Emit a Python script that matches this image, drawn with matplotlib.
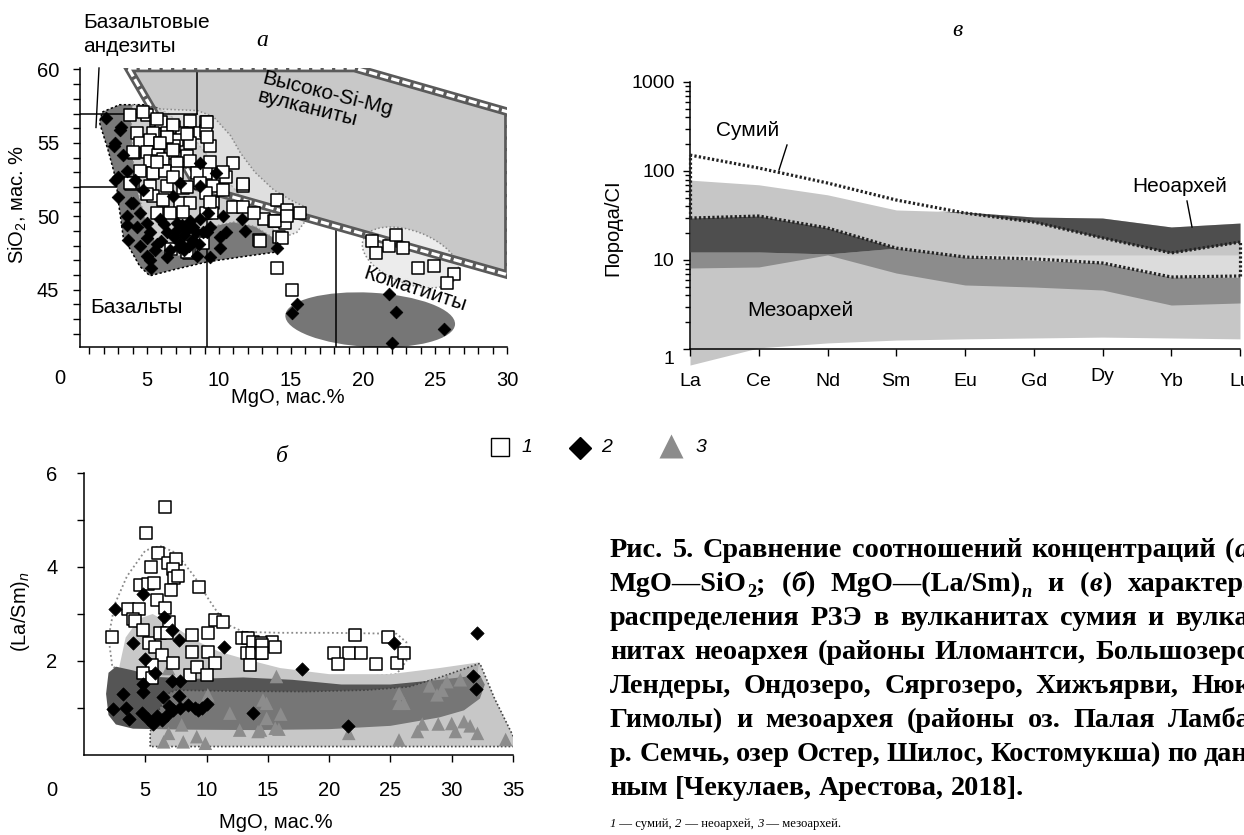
import matplotlib
matplotlib.use("Agg")
import matplotlib.pyplot as plt
from matplotlib.patches import Polygon, Ellipse
from matplotlib.lines import Line2D
from matplotlib.ticker import MultipleLocator, FixedLocator, LogLocator, NullFormatter
import matplotlib.transforms as mtrans

plt.rcParams['font.family'] = ['Liberation Sans', 'DejaVu Sans']
plt.rcParams['mathtext.fontset'] = 'custom'
plt.rcParams['mathtext.rm'] = 'Liberation Sans'
plt.rcParams['mathtext.it'] = 'Liberation Sans:italic'

# ---------------- panel a: MgO - SiO2 ----------------
sum_a_mgo = [3.8, 5.0, 5.6, 6.0, 8.0, 9.1, 6.9, 7.4, 7.9, 8.7, 9.1, 4.3, 5.4, 6.4, 7.1, 4.5, 5.2, 5.9,
             6.9, 8.0, 9.4, 4.1, 5.0, 5.8, 6.7, 7.75, 5.2, 6.1, 7.1, 8.0, 11.0, 4.5, 5.4, 6.25, 7.1,
             9.1, 9.95, 10.5, 11.7, 4.05, 5.2, 6.4, 7.5, 8.45, 8.7, 9.6, 10.3, 9.1, 5.4, 6.1, 7.3, 8.0,
             9.6, 11.0, 11.7, 14.0, 14.7, 13.1, 13.8, 14.6, 5.7, 6.6, 7.5, 9.1, 15.6, 14.2, 12.8, 6.7,
             7.9, 8.9, 12.4, 7.75, 9.5, 5.0, 3.9, 9.4, 13.9, 14.7, 12.85, 14.35, 14.0, 15.1,
             4.7, 5.7, 6.8, 9.2, 6.4, 7.8, 9.2, 4.0, 5.9, 6.8, 5.7, 9.4, 3.8, 6.8, 7.8, 10.3, 11.7,
             20.6, 20.9, 21.8, 22.3, 22.8, 23.8, 24.95, 26.3, 25.8]
sum_a_sio2 = [56.9, 56.9, 56.5, 56.4, 56.5, 56.4, 56.1, 55.7, 55.6, 55.7, 55.8, 55.7, 55.7, 55.7, 55.2, 55.0,
              55.2, 55.0, 54.8, 55.0, 54.8, 54.3, 54.4, 54.2, 54.3, 54.1, 53.75, 53.9, 53.6, 53.75, 53.6,
              53.1, 52.95, 53.1, 52.95, 52.95, 52.7, 52.7, 52.05, 52.3, 52.05, 52.05, 51.9, 52.95, 52.3,
              52.05, 51.8, 51.6, 51.4, 51.1, 50.9, 50.9, 50.9, 50.6, 50.6, 51.1, 50.45, 49.8, 49.7, 49.55,
              50.2, 50.2, 50.3, 50.2, 50.2, 48.6, 48.4, 47.8, 47.5, 48.2, 50.2, 47.6, 50.2, 51.5, 52.2,
              51.0, 49.65, 50.0, 48.3, 48.5, 46.5, 45.0,
              57.1, 56.6, 56.25, 56.4, 55.4, 55.6, 55.4, 54.4, 55.0, 54.5, 53.7, 53.7, 52.3, 52.7, 52.0,
              53.0, 52.2,
              48.3, 47.5, 48.0, 48.75, 47.85, 46.5, 46.6, 46.1, 45.45]
neo_a_mgo = [2.15, 3.2, 2.8, 3.35, 3.6, 4.2, 8.7, 3.0, 2.8, 3.9, 3.6, 4.5, 5.0, 5.0, 5.7, 5.2, 5.3, 6.4, 7.1,
             7.6, 8.2, 8.7, 8.1, 7.3, 9.15, 10.1, 10.1, 9.4, 11.6, 11.8, 14.0, 4.7, 3.1, 3.0, 3.6, 4.05,
             5.2, 5.55, 6.4, 6.6, 7.75, 7.6, 9.8, 8.7, 9.25, 10.3, 9.4, 8.9, 10.5, 7.3, 6.8, 5.9, 4.5,
             4.3, 3.7, 5.0, 8.45, 2.7, 6.9, 7.0, 7.9, 8.4, 6.2, 7.4, 8.0, 6.0, 7.2, 8.6,
             15.4, 15.05, 21.8, 22.3, 25.6, 22.0]
neo_a_sio2 = [56.7, 56.1, 55.0, 54.2, 53.1, 52.5, 53.6, 51.3, 52.5, 50.9, 49.4, 50.2, 49.55, 48.5, 48.1,
              47.05, 46.5, 47.2, 49.55, 48.75, 49.3, 49.8, 48.4, 48.2, 48.9, 48.6, 47.85, 47.2, 49.8, 49.0,
              47.85, 51.8, 55.9, 52.7, 50.0, 50.9, 48.9, 47.7, 48.9, 47.7, 49.1, 47.7, 52.95, 52.05, 50.2,
              50.0, 49.3, 48.9, 48.9, 52.3, 51.4, 49.8, 47.95, 49.3, 48.4, 47.3, 47.3, 54.8,
              48.6, 49.0, 48.0, 48.9, 49.5, 49.4, 49.7, 48.3, 47.9, 48.1,
              44.0, 43.4, 44.7, 43.45, 42.35, 41.4]

# field outlines (MgO, SiO2)
hsm_mgo = [3.7, 19.4, 30.1, 30.1, 8.5]
hsm_sio2 = [60.1, 60.1, 57.1, 46.0, 52.0]
neo_hull_mgo = [1.9, 3.1, 5.2, 6.5, 8.5, 10.5, 12.5, 14.3, 14.2, 12.0, 9.2, 7.0, 5.2, 4.5, 3.35, 3.0,
                2.85, 2.3, 1.7]
neo_hull_sio2 = [57.1, 57.6, 57.6, 57.0, 55.0, 52.5, 50.3, 48.6, 47.6, 47.3, 46.9, 46.4, 45.95, 46.6,
                 48.6, 51.1, 52.5, 54.5, 56.4]
sum_hull_mgo = [4.0, 6.1, 8.5, 9.6, 10.8, 11.5, 12.5, 13.8, 15.0, 15.85, 16.1, 15.4, 14.0, 12.5, 11.0,
                9.5, 8.8, 8.2, 6.8, 5.8, 5.0, 4.4, 4.0, 3.9]
sum_hull_sio2 = [57.6, 57.3, 57.2, 56.8, 55.5, 54.3, 53.0, 51.8, 51.1, 50.7, 49.8, 48.9, 48.4, 49.3,
                 49.6, 49.3, 48.3, 47.4, 47.3, 47.8, 49.3, 51.5, 54.0, 56.5]

# ---------------- panel б: MgO - (La/Sm)n ----------------
sum_b_mgo = [6.6, 5.06, 6.07, 6.83, 7.5, 7.24, 5.47, 7.35, 7.7, 9.4, 4.57, 5.25, 5.7, 7.13, 5.93, 6.6, 3.57,
             4.5, 3.97, 10.7, 11.3, 6.97, 2.26, 4.16, 4.84, 5.3, 5.8, 6.2, 6.75, 6.34, 5.52, 4.84, 5.52,
             7.3, 8.8, 10.1, 8.8, 10.1, 10.7, 8.65, 9.2, 10.0, 12.9, 13.4, 13.8, 13.3, 13.7, 14.4, 15.3,
             14.4, 13.55, 15.6, 14.5, 14.5, 22.1, 24.8, 20.4, 21.6, 22.6, 20.7, 23.8, 25.5, 26.1]
sum_b_lasm = [5.27, 4.73, 4.29, 4.08, 4.16, 3.95, 3.99, 3.77, 3.81, 3.58, 3.62, 3.64, 3.65, 3.51, 3.3, 3.12,
              3.11, 3.11, 2.89, 2.87, 2.82, 2.82, 2.52, 2.86, 2.66, 2.38, 2.3, 2.59, 2.59, 2.13, 1.91,
              1.74, 1.63, 1.95, 2.55, 2.59, 2.2, 2.2, 1.95, 1.7, 1.88, 1.7, 2.48, 2.48, 2.41, 2.16, 2.16,
              2.16, 2.41, 2.38, 1.91, 2.3, 2.34, 2.18, 2.55, 2.52, 2.18, 2.18, 2.18, 1.94, 1.94, 1.96, 2.18]
neo_b_mgo = [2.53, 4.79, 6.5, 7.16, 4.02, 7.78, 11.4, 4.98, 5.8, 7.16, 7.84, 4.8, 3.16, 4.8, 6.48, 7.78, 2.4,
             3.43, 3.7, 4.71, 5.25, 5.66, 6.34, 6.75, 7.29, 7.84, 8.51, 9.06, 9.6, 10.0, 9.33, 6.9, 5.93,
             13.8, 17.8, 25.3, 32.1, 31.7, 32.0, 21.5]
neo_b_lasm = [3.11, 3.43, 2.93, 2.67, 2.39, 2.45, 2.3, 2.04, 1.75, 1.58, 1.58, 1.52, 1.29, 1.33, 1.24, 1.26,
              0.97, 1.01, 0.76, 0.9, 0.76, 0.67, 0.74, 0.85, 0.96, 0.99, 1.06, 1.01, 1.01, 1.08, 0.96,
              1.04, 0.82, 0.89, 1.82, 2.39, 2.59, 1.68, 1.4, 0.62]
meso_b_mgo = [6.9, 10.1, 11.9, 14.9, 15.6, 12.7, 9.2, 9.9, 8.1, 6.5, 7.97, 6.9, 14.2, 14.9, 15.7, 14.6,
              16.05, 15.9, 14.4, 21.6, 25.7, 25.7, 26.1, 28.2, 28.8, 29.2, 29.6, 30.7, 27.2, 27.6, 28.9,
              30.0, 30.3, 31.0, 31.5, 32.1, 25.7, 34.4]
meso_b_lasm = [1.84, 1.28, 0.89, 0.78, 0.57, 0.53, 0.39, 0.25, 0.28, 0.28, 0.64, 0.46, 0.5, 1.1, 1.67,
               1.17, 0.87, 0.55, 0.53, 0.46, 1.31, 1.1, 1.1, 1.47, 1.28, 1.38, 1.56, 1.6, 0.5, 0.66,
               0.66, 0.67, 0.5, 0.71, 0.62, 0.46, 0.32, 0.33]

sum_field_b_mgo = [2.3, 2.0, 2.5, 3.5, 5.0, 6.2, 7.5, 9.0, 10.2, 11.5, 13.0, 16.0, 20.0, 25.5, 26.3, 26.3,
                   25.5, 22.0, 18.0, 15.0, 12.0, 8.0, 5.0, 3.0]
sum_field_b_lasm = [1.9, 2.5, 3.2, 3.8, 4.35, 4.45, 4.3, 3.8, 3.3, 2.8, 2.62, 2.6, 2.6, 2.58, 2.4, 2.0,
                    1.72, 1.65, 1.62, 1.65, 1.8, 1.8, 1.7, 1.75]
up_field_b_mgo = [2.9, 3.4, 4.5, 5.6, 7.0, 9.0, 11.0, 13.0, 16.0, 20.0, 25.0, 29.0, 32.2, 32.0, 3.0]
up_field_b_lasm = [1.9, 2.5, 2.9, 3.0, 2.8, 2.45, 2.2, 2.05, 1.85, 1.72, 1.72, 1.85, 1.97, 1.3, 1.3]
neo_field_b_mgo = [2.0, 2.6, 4.0, 6.0, 9.0, 13.0, 17.0, 21.0, 25.0, 29.0, 32.3, 32.7, 32.3, 31.0, 29.0,
                   25.0, 20.0, 14.0, 8.0, 4.0, 2.6, 2.0, 1.8]
neo_field_b_lasm = [1.75, 1.88, 1.8, 1.66, 1.62, 1.65, 1.6, 1.5, 1.5, 1.6, 1.7, 1.5, 1.2, 0.95, 0.8, 0.62,
                    0.55, 0.53, 0.54, 0.56, 0.65, 0.85, 1.3]
meso_field_b_mgo = [5.4, 5.4, 6.0, 6.8, 7.5, 12.0, 18.0, 23.0, 26.5, 29.0, 32.3, 33.5, 35.3, 35.3]
meso_field_b_lasm = [0.18, 0.5, 0.9, 1.3, 1.38, 1.36, 1.35, 1.38, 1.45, 1.65, 1.95, 1.2, 0.25, 0.18]

# ---------------- panel в: REE / CI ----------------
ree = ['La', 'Ce', 'Nd', 'Sm', 'Eu', 'Gd', 'Dy', 'Yb', 'Lu']
meso_top = [79, 70, 54, 36.5, 34.6, 30.4, 29.6, 23.5, 26.0]
meso_bot = [0.66, 1.03, 1.17, 1.26, 1.30, 1.33, 1.36, 1.33, 1.30]
mid_top = [12.3, 12.3, 11.7, 13.6, 10.8, 10.0, 9.25, 6.44, 6.44]
mid_bot = [8.13, 8.35, 11.4, 7.14, 5.24, 4.97, 4.60, 3.12, 3.29]
neo_left_top = [29.6, 31.2, 22.9, 13.6]
neo_left_bot = [12.3, 12.3, 11.7, 13.6]
neo_right_pos = [3.6, 4, 5, 6, 7, 8]
neo_right_top = [35.5, 34.6, 30.4, 29.6, 23.5, 26.0]
neo_right_bot = [35.5, 33.7, 26.7, 17.7, 12.0, 15.9]
pale_top = [11.4, 11.4, 11.4, 11.4, 11.4]
pale_bot = [10.8, 10.0, 9.25, 6.44, 6.44]
sum_top = [151, 108, 73.3, 47.2, 33.7, 26.7, 17.7, 12.0, 15.9]
sum_bot = [29.6, 31.2, 22.9, 13.6, 10.8, 10.3, 9.25, 6.44, 6.61]

W, H = 1244, 835
fig = plt.figure(figsize=(12.44, 8.35), dpi=100)


def fx(x):
    return x / W


def fy(y):
    return 1 - y / H


def axes_px(left, top, right, bottom):
    return fig.add_axes([fx(left), fy(bottom), (right - left) / W, (bottom - top) / H])


def style_axes(ax):
    for s in ['top', 'right']:
        ax.spines[s].set_visible(False)
    for s in ['left', 'bottom']:
        ax.spines[s].set_linewidth(1.1)
    ax.tick_params(which='both', direction='out', width=1.0, labelsize=14.5, length=5, pad=10)
    ax.patch.set_alpha(0)


# ---------- panel a ----------
ax = axes_px(80, 68, 507, 347)
style_axes(ax)
ax.set_xlim(0.35, 30)
ax.set_ylim(41.1, 60.1)
ax.xaxis.set_major_locator(FixedLocator([5, 10, 15, 20, 25, 30]))
ax.xaxis.set_minor_locator(MultipleLocator(1))
ax.yaxis.set_major_locator(FixedLocator([45, 50, 55, 60]))
ax.yaxis.set_minor_locator(MultipleLocator(1))
ax.tick_params(axis='x', pad=12)

hsm = list(zip(hsm_mgo, hsm_sio2))
ax.add_patch(Polygon(hsm, closed=True, facecolor='#c8c8c8', edgecolor='none', zorder=1))
ax.add_patch(Ellipse((23.3, 47.2), 7.0, 3.6, angle=-20, facecolor='#ececec', edgecolor='#888888',
                     lw=1.1, linestyle=(0, (1, 1.5)), zorder=1.2))
ax.add_patch(Ellipse((20.5, 42.95), 11.8, 3.7, angle=-3, facecolor='#767676', edgecolor='none', zorder=2))
ax.plot([0.35, 8.5], [52, 52], color='black', lw=1.1, zorder=1.8)
ax.add_patch(Polygon(list(zip(neo_hull_mgo, neo_hull_sio2)), closed=True, facecolor='#7a7a7a',
                     edgecolor='black', lw=1.1, linestyle=(0, (1.5, 1.5)), zorder=2))
ax.add_patch(Polygon(list(zip(sum_hull_mgo, sum_hull_sio2)), closed=True, facecolor='#e5e5e5', alpha=0.8,
                     edgecolor='none', zorder=3))
ax.add_patch(Polygon(list(zip(sum_hull_mgo, sum_hull_sio2)), closed=True, fill=False,
                     edgecolor='#8a8a8a', lw=1.1, linestyle=(0, (1, 1.5)), zorder=3.1))

# classification lines
lk = dict(color='black', lw=1.1, zorder=3.5)
ax.plot([0.35, 8.5], [57, 57], **lk)
ax.plot([8.5, 8.5], [57, 60.1], **lk)
ax.plot([9.2, 9.2], [41.1, 52], **lk)
ax.plot([18.1, 18.1], [41.1, 49.33], **lk)
ax.plot([1.67, 1.46], [60.1, 56.05], color='black', lw=1.0, clip_on=False, zorder=3.5)

ax.add_patch(Polygon(hsm, closed=True, fill=False, edgecolor='#5a5a5a', lw=6.2, joinstyle='miter', zorder=4))
ax.add_patch(Polygon(hsm, closed=True, fill=False, edgecolor='white', lw=2.3, linestyle=(0, (2.6, 1.0)),
                     joinstyle='miter', zorder=4.1))

ax.scatter(sum_a_mgo, sum_a_sio2, marker='s', s=70, facecolor='white', edgecolor='black', lw=1.1,
           zorder=5, clip_on=False)
ax.scatter(neo_a_mgo, neo_a_sio2, marker='D', s=42, facecolor='black', edgecolor='black', lw=0.5,
           zorder=5.5, clip_on=False)

ax.text(17.4, 57.7, 'Высоко-Si-Mg\nвулканиты', rotation=-14, ha='center', va='center', fontsize=15,
        multialignment='left', zorder=6, linespacing=1.0)
ax.text(4.3, 43.8, 'Базальты', ha='center', va='center', fontsize=15, zorder=6)
ax.text(23.6, 45.0, 'Коматииты', rotation=-18, ha='center', va='center', fontsize=15, zorder=6)

fig.text(fx(83), fy(22), 'Базальтовые', fontsize=15, va='center', ha='left')
fig.text(fx(83), fy(46), 'андезиты', fontsize=15, va='center', ha='left')
fig.text(fx(262), fy(40), 'а', fontsize=17, style='italic', family='Liberation Serif', ha='center', va='center')
fig.text(fx(60), fy(378), '0', fontsize=14.5, ha='center', va='center')
fig.text(fx(18), fy(205), 'SiO$_2$, мас. %', rotation=90, fontsize=14.5, ha='center', va='center')
fig.text(fx(288), fy(398), 'MgO, мас.%', fontsize=14.5, ha='center', va='center')

# ---------- panel в ----------
av = axes_px(690, 82, 1240, 349)
style_axes(av)
av.set_yscale('log')
av.set_ylim(1, 1000)
av.set_xlim(0, 8)
pos = list(range(len(ree)))
av.set_xticks(pos)
av.set_xticklabels(ree)
av.yaxis.set_major_locator(FixedLocator([1, 10, 100, 1000]))
av.set_yticklabels(['1', '10', '100', '1000'])
av.yaxis.set_minor_locator(LogLocator(base=10, subs=range(2, 10)))
av.yaxis.set_minor_formatter(NullFormatter())
av.tick_params(axis='y', which='minor', length=3.5)
av.tick_params(axis='both', labelsize=14, pad=6)
av.tick_params(axis='x', pad=12)

av.fill_between(pos, meso_bot, meso_top, color='#c6c6c6', lw=0, zorder=1, clip_on=False)
av.fill_between(pos, mid_bot, mid_top, color='#8c8c8c', lw=0, zorder=2)
av.fill_between(pos[:4], neo_left_bot, neo_left_top, color='#4e4e4e', lw=0, zorder=3)
av.fill_between(neo_right_pos, neo_right_bot, neo_right_top, color='#4e4e4e', lw=0, zorder=3)
av.fill_between(pos[4:], pale_bot, pale_top, color='#dcdcdc', lw=0, zorder=2.5)
dk = dict(color='#222222', lw=2.3, linestyle=(0, (0.7, 0.7)), zorder=4, clip_on=False)
av.plot(pos, sum_top, **dk)
av.plot(pos, sum_bot, **dk)
av.plot([pos[0], pos[0]], [sum_bot[0], sum_top[0]], **dk)
av.plot([pos[-1], pos[-1]], [sum_bot[-1], sum_top[-1]], **dk)

for lab in av.get_xticklabels():
    if lab.get_text() == 'Dy':
        lab.set_transform(lab.get_transform() + mtrans.ScaledTranslation(0, 3 / 72, fig.dpi_scale_trans))
for lab in av.get_yticklabels():
    if lab.get_text() == '1':
        lab.set_transform(lab.get_transform() + mtrans.ScaledTranslation(0, -6 / 72, fig.dpi_scale_trans))

fig.text(fx(957), fy(30), 'в', fontsize=17, style='italic', family='Liberation Serif', ha='center', va='center')
fig.text(fx(748), fy(130), 'Сумий', fontsize=15, ha='center', va='center')
fig.add_artist(Line2D([fx(787), fx(779)], [fy(145), fy(170)], color='black', lw=1.0))
fig.text(fx(1180), fy(187), 'Неоархей', fontsize=15, ha='center', va='center')
fig.add_artist(Line2D([fx(1187), fx(1192)], [fy(201), fy(227)], color='black', lw=1.0))
fig.text(fx(800), fy(310), 'Мезоархей', fontsize=15, ha='center', va='center')
fig.text(fx(613), fy(228), 'Порода/CI', rotation=90, fontsize=14.5, ha='center', va='center')

# ---------- panel б ----------
ab = axes_px(84, 473, 513, 755)
style_axes(ab)
ab.set_xlim(0, 35)
ab.set_ylim(0, 6)
ab.xaxis.set_major_locator(FixedLocator([5, 10, 15, 20, 25, 30, 35]))
ab.yaxis.set_major_locator(FixedLocator([1, 2, 3, 4, 5, 6]))
ab.set_yticklabels(['', '2', '', '4', '', '6'])
ab.tick_params(axis='x', pad=14)
ab.tick_params(axis='y', pad=14)

ab.add_patch(Polygon(list(zip(sum_field_b_mgo, sum_field_b_lasm)), closed=True, facecolor='white',
                     edgecolor='#8a8a8a', lw=1.3, linestyle=(0, (1, 1.5)), zorder=1))
ab.add_patch(Polygon(list(zip(up_field_b_mgo, up_field_b_lasm)), closed=True, facecolor='#c8c8c8',
                     edgecolor='none', zorder=1.5))
ab.add_patch(Polygon(list(zip(neo_field_b_mgo, neo_field_b_lasm)), closed=True, facecolor='#555555',
                     edgecolor='none', zorder=2))
ab.add_patch(Polygon(list(zip(meso_field_b_mgo, meso_field_b_lasm)), closed=True, facecolor='#959595',
                     alpha=0.52, edgecolor='none', zorder=2.5))
ab.add_patch(Polygon(list(zip(meso_field_b_mgo, meso_field_b_lasm)), closed=True, fill=False,
                     edgecolor='#444444', lw=1.2, linestyle=(0, (1, 1.3)), zorder=2.6))

ab.scatter(meso_b_mgo, meso_b_lasm, marker='^', s=95, facecolor='#8c8c8c', edgecolor='none', zorder=4)
ab.scatter(sum_b_mgo, sum_b_lasm, marker='s', s=68, facecolor='white', edgecolor='black', lw=1.1, zorder=5)
ab.scatter(neo_b_mgo, neo_b_lasm, marker='D', s=46, facecolor='black', edgecolor='black', lw=0.5, zorder=5.5)

fig.text(fx(282), fy(457), 'б', fontsize=17, style='italic', family='Liberation Serif', ha='center', va='center')
fig.text(fx(52), fy(790), '0', fontsize=14.5, ha='center', va='center')
fig.text(fx(20), fy(612), '(La/Sm)$_{\\mathit{n}}$', rotation=90, fontsize=14.5, ha='center', va='center')
fig.text(fx(276), fy(823), 'MgO, мас.%', fontsize=14.5, ha='center', va='center')

# ---------- legend ----------
fig.add_artist(Line2D([fx(500)], [fy(447)], marker='s', ms=13, mfc='white', mec='black', mew=1.0, ls='none'))
fig.text(fx(527), fy(447), '1', fontsize=14, style='italic', ha='center', va='center')
fig.add_artist(Line2D([fx(580)], [fy(448)], marker='D', ms=11, mfc='black', mec='black', ls='none'))
fig.text(fx(607), fy(448), '2', fontsize=14, style='italic', ha='center', va='center')
fig.add_artist(Line2D([fx(671)], [fy(446)], marker='^', ms=17, mfc='#8c8c8c', mec='none', ls='none'))
fig.text(fx(701), fy(447), '3', fontsize=14, style='italic', ha='center', va='center')

# ---------- caption (justified block, cut by the right edge as in the source) ----------
renderer = fig.canvas.get_renderer()
CAP = 20.3
CAP_LEFT, CAP_RIGHT = 610, 1258


def seg_text(txt, it, dy, size):
    return fig.text(0, fy(0), txt, fontsize=size * (0.65 if dy else 1), family='Liberation Serif',
                    weight='bold', style='italic' if it else 'normal', ha='left', va='baseline')


def justified_line(y, words, last=False):
    built = []
    total = 0
    for word in words:
        segs = []
        for txt, it, dy in word:
            t = seg_text(txt, it, dy, CAP)
            w = t.get_window_extent(renderer).width
            segs.append((t, w, dy))
            total += w
        built.append(segs)
    if last:
        gap = CAP * 100 / 72 * 0.25
    else:
        gap = (CAP_RIGHT - CAP_LEFT - total) / (len(words) - 1)
    x = CAP_LEFT
    for segs in built:
        for t, w, dy in segs:
            t.set_position((fx(x), fy(y + dy)))
            x += w
        x += gap


def plain(line):
    return [[(w, False, 0)] for w in line.split(' ')]


cap = [
    plain('Рис. 5. Сравнение соотношений концентраций') + [[('(', False, 0), ('а', True, 0), (')', False, 0)]],
    [[('MgO—SiO', False, 0), ('2', False, 6), (';', False, 0)], [('(', False, 0), ('б', True, 0), (')', False, 0)],
     [('MgO—(La/Sm)', False, 0), ('n', True, 6)], [('и', False, 0)],
     [('(', False, 0), ('в', True, 0), (')', False, 0)], [('характера', False, 0)]],
    plain('распределения РЗЭ в вулканитах сумия и вулка-'),
    plain('нитах неоархея (районы Иломантси, Большозеро,'),
    plain('Лендеры, Ондозеро, Сяргозеро, Хижъярви, Нюк,'),
    plain('Гимолы) и мезоархея (районы оз. Палая Ламба,'),
    plain('р. Семчь, озер Остер, Шилос, Костомукша) по дан-'),
    plain('ным [Чекулаев, Арестова, 2018].'),
]
for i, words in enumerate(cap):
    justified_line(557 + i * 34, words, last=(i == len(cap) - 1))

x0 = CAP_LEFT
for txt, it in [('1', True), (' — сумий, ', False), ('2', True), (' — неоархей, ', False), ('3', True),
                (' — мезоархей.', False)]:
    t = fig.text(fx(x0), fy(827), txt, fontsize=9.2, family='Liberation Serif',
                 style='italic' if it else 'normal', ha='left', va='baseline')
    x0 += t.get_window_extent(renderer).width

fig.savefig('out.png', dpi=100)
